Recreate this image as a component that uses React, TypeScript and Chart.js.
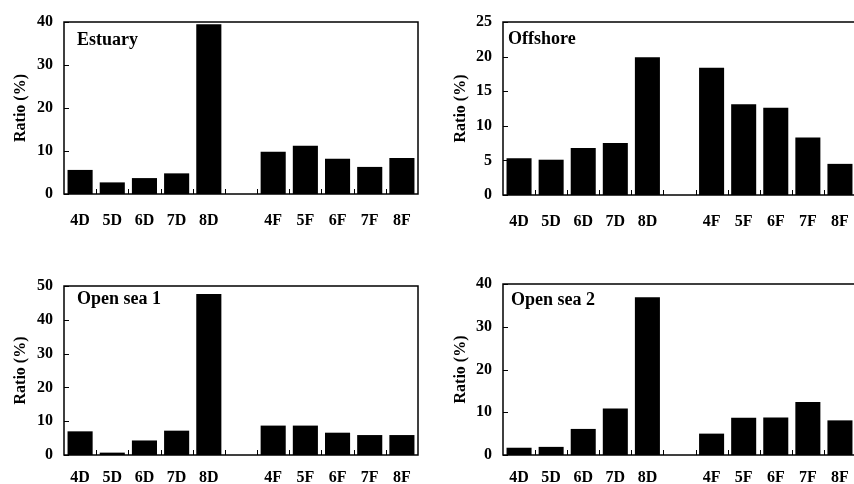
import React, { useEffect, useRef } from 'react';
import { Chart, registerables } from 'chart.js';
Chart.register(...registerables);

const categories = ['4D', '5D', '6D', '7D', '8D', '', '4F', '5F', '6F', '7F', '8F'];
const estuary = [5.6, 2.7, 3.7, 4.8, 39.5, null, 9.8, 11.2, 8.2, 6.3, 8.4];
const offshore = [5.3, 5.1, 6.8, 7.5, 19.9, null, 18.4, 13.1, 12.6, 8.3, 4.5];
const openSea1 = [7.0, 0.7, 4.3, 7.2, 47.6, null, 8.7, 8.7, 6.6, 5.9, 5.9];
const openSea2 = [1.7, 1.9, 6.1, 10.9, 36.9, null, 5.0, 8.7, 8.8, 12.4, 8.1];
const yAxisTitle = 'Ratio (%)';

const FONT = "'Liberation Serif', 'Times New Roman', serif";

type Panel = {
  name: string; values: (number | null)[]; max: number; step: number;
  left: number; top: number; width: number; height: number;
  padTop: number; padRight: number; yWidth: number; xHeight: number;
  titlePad: number; labelDx: number; labelDy: number; xPad: number;
};

const panels: Panel[] = [
  { name: 'Estuary', values: estuary, max: 40, step: 10, left: 0, top: 0, width: 427, height: 242, padTop: 22, padRight: 9, yWidth: 64, xHeight: 48, titlePad: 11, labelDx: 13, labelDy: 23, xPad: 17 },
  { name: 'Offshore', values: offshore, max: 25, step: 5, left: 427, top: 0, width: 435, height: 242, padTop: 22, padRight: 6, yWidth: 76, xHeight: 47, titlePad: 24, labelDx: 5, labelDy: 22, xPad: 17 },
  { name: 'Open sea 1', values: openSea1, max: 50, step: 10, left: 0, top: 242, width: 427, height: 242, padTop: 44, padRight: 9, yWidth: 64, xHeight: 29, titlePad: 11, labelDx: 13, labelDy: 18, xPad: 13 },
  { name: 'Open sea 2', values: openSea2, max: 40, step: 10, left: 427, top: 242, width: 435, height: 242, padTop: 42, padRight: 6, yWidth: 76, xHeight: 29, titlePad: 24, labelDx: 8, labelDy: 21, xPad: 13 },
];

function PanelChart({ p }: { p: Panel }) {
  const ref = useRef<HTMLCanvasElement | null>(null);
  useEffect(() => {
    if (!ref.current) return;
    const frame = {
      id: 'frame',
      afterDatasetsDraw(chart: any) {
        const { ctx, chartArea: a, scales } = chart;
        ctx.save();
        ctx.strokeStyle = '#000';
        ctx.lineWidth = 1.5;
        ctx.strokeRect(a.left, a.top, a.right - a.left, a.bottom - a.top);
        ctx.lineWidth = 1;
        const y = scales.y;
        y.ticks.forEach((t: any) => {
          const py = Math.round(y.getPixelForValue(t.value)) + 0.5;
          ctx.beginPath();
          ctx.moveTo(a.left, py);
          ctx.lineTo(a.left + 5, py);
          ctx.stroke();
        });
        const x = scales.x;
        for (let i = 0; i < categories.length - 1; i++) {
          const px = Math.round((x.getPixelForValue(i) + x.getPixelForValue(i + 1)) / 2) + 0.5;
          ctx.beginPath();
          ctx.moveTo(px, a.bottom);
          ctx.lineTo(px, a.bottom - 5);
          ctx.stroke();
        }
        ctx.fillStyle = '#000';
        ctx.font = `bold 18px ${FONT}`;
        ctx.textBaseline = 'alphabetic';
        ctx.textAlign = 'left';
        ctx.fillText(p.name, a.left + p.labelDx, a.top + p.labelDy);
        ctx.restore();
      },
    };
    const zeroPad = (s: any) => { s.paddingLeft = 0; s.paddingRight = 0; s.paddingTop = 0; s.paddingBottom = 0; };
    const chart = new Chart(ref.current, {
      type: 'bar',
      data: {
        labels: categories,
        datasets: [{
          data: p.values as any,
          backgroundColor: '#000',
          borderWidth: 0,
          barPercentage: 0.78,
          categoryPercentage: 1.0,
        }],
      },
      options: {
        animation: false,
        responsive: false,
        devicePixelRatio: 1,
        layout: { padding: { top: p.padTop, right: p.padRight, left: 0, bottom: 0 } },
        plugins: { legend: { display: false }, tooltip: { enabled: false }, title: { display: false } },
        scales: {
          x: {
            grid: { display: false, drawTicks: false },
            border: { display: false },
            ticks: {
              color: '#000', font: { family: FONT, size: 16, weight: 'bold' },
              padding: p.xPad, autoSkip: false, maxRotation: 0, minRotation: 0,
            },
            afterFit: (s: any) => { s.height = p.xHeight; zeroPad(s); },
          },
          y: {
            min: 0, max: p.max,
            grid: { display: false, drawTicks: false },
            border: { display: false },
            ticks: {
              stepSize: p.step, color: '#000', font: { family: FONT, size: 16, weight: 'bold' },
              padding: 11,
            },
            title: {
              display: true, text: yAxisTitle, color: '#000',
              font: { family: FONT, size: 16, weight: 'bold' },
              padding: { top: p.titlePad, bottom: 0 },
            },
            afterFit: (s: any) => { s.width = p.yWidth; zeroPad(s); },
          },
        },
      },
      plugins: [frame],
    });
    return () => chart.destroy();
  }, [p]);
  return (
    <div style={{ position: 'absolute', left: p.left, top: p.top, width: p.width, height: p.height }}>
      <canvas ref={ref} width={p.width} height={p.height} style={{ width: p.width, height: p.height, display: 'block' }} />
    </div>
  );
}

export default function App() {
  return (
    <div style={{ position: 'fixed', left: 0, top: 0, width: 854, height: 484, overflow: 'hidden', background: '#fff' }}>
      {panels.map((p) => <PanelChart key={p.name} p={p} />)}
    </div>
  );
}
